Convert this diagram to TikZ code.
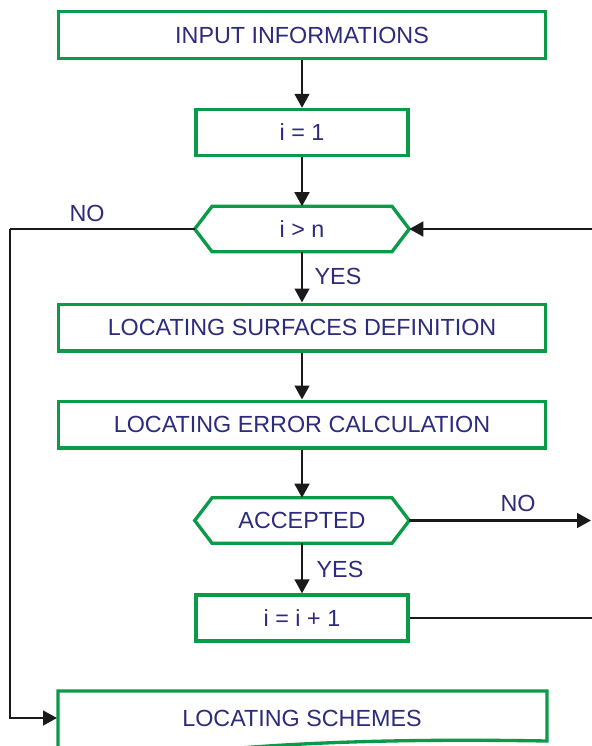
\documentclass[tikz,border=0pt]{standalone}
\usepackage{fontspec}
\setmainfont{Liberation Sans}
\usetikzlibrary{arrows.meta}
\definecolor{fgreen}{HTML}{0A9A48}
\definecolor{ftext}{HTML}{2D2B7B}
\definecolor{fline}{HTML}{1A1A1A}
\begin{document}
\begin{tikzpicture}[x=0.75pt,y=-0.75pt,
  every node/.style={text=ftext,font=\fontsize{17.5}{20}\selectfont},
  widebox/.style={draw=fgreen,line width=2.5pt,minimum width=365pt,minimum height=35pt,inner sep=0pt,fill=white},
  smallbox/.style={draw=fgreen,line width=2.5pt,minimum width=159pt,minimum height=34.5pt,inner sep=0pt,fill=white},
  hexbox/.style={minimum width=160.5pt,minimum height=33.75pt,inner sep=0pt},
  hexline/.style={draw=fgreen,line width=2.5pt,line join=miter},
  conn/.style={draw=fline,line width=1.9pt},
  arr/.style={conn,-{Triangle[length=10.5pt,width=11pt]}},
  lbl/.style={text=ftext}]
\useasboundingbox (0,0) rectangle (592,746);
% nodes
\node[widebox] (b1) at (302,35) {INPUT INFORMATIONS};
\node[smallbox] (b2) at (302,132.5) {i = 1};
\node[hexbox] (h1) at (302,229) {i > n};
\draw[hexline] (h1.west) -- ([xshift=13pt]h1.north west) -- ([xshift=-13pt]h1.north east) -- (h1.east) -- ([xshift=-13pt]h1.south east) -- ([xshift=13pt]h1.south west) -- cycle;
\node[widebox] (b3) at (302,327.5) {LOCATING SURFACES DEFINITION};
\node[widebox] (b4) at (302,424.5) {LOCATING ERROR CALCULATION};
\node[hexbox] (h2) at (302,520.5) {ACCEPTED};
\draw[hexline] (h2.west) -- ([xshift=13pt]h2.north west) -- ([xshift=-13pt]h2.north east) -- (h2.east) -- ([xshift=-13pt]h2.south east) -- ([xshift=13pt]h2.south west) -- cycle;
\node[smallbox] (b5) at (302,618) {i = i + 1};
% document-shaped last box
\draw[hexline,fill=white] (58,770) -- (58,691) -- (547,691) -- (547,741)
  .. controls (430,739) and (330,741) .. (240,748)
  .. controls (160,754) and (110,760) .. (58,770);
\node (b6) at (302,718) {LOCATING SCHEMES};
\coordinate (b6w) at (57,718);
% free ends
\coordinate (L1) at (10,229);
\coordinate (R1) at (592,229);
\coordinate (R2) at (591,520.5);
\coordinate (R3) at (592,618);
% connectors
\draw[arr] (b1) -- (b2);
\draw[arr] (b2) -- (h1);
\draw[arr] (h1) -- (b3);
\draw[arr] (b3) -- (b4);
\draw[arr] (b4) -- (h2);
\draw[arr] (h2) -- (b5);
\draw[conn] (h1.west) -- (L1);
\draw[arr] (L1) |- (b6w);
\draw[arr] (R1) -- (h1.east);
\draw[arr] (h2.east) -- (R2);
\draw[conn] (b5.east) -- (R3);
% labels
\node[lbl] (no1) at (87,213) {NO};
\node[lbl] (yes1) at (338,276) {YES};
\node[lbl] (yes2) at (340,569) {YES};
\node[lbl] (no2) at (518,503) {NO};
\end{tikzpicture}
\end{document}
